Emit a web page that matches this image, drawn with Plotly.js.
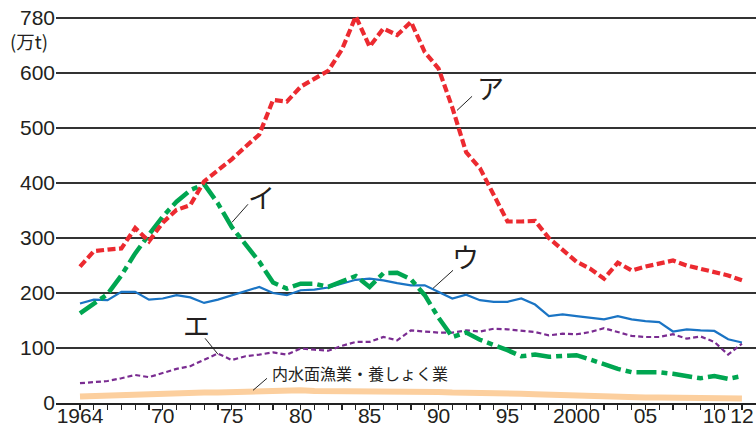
<!DOCTYPE html>
<html>
<head>
<meta charset="utf-8">
<script src="https://cdn.plot.ly/plotly-3.0.1.min.js"></script>
<style>
  html, body { margin: 0; padding: 0; background: #fff; }
  #chart { width: 756px; height: 426px; }
</style>
</head>
<body>
<div id="chart"></div>
<script>
// Years 1964–2012
const years = [];
for (let y = 1964; y <= 2012; y++) years.push(y);

// ア (red dashed)
const seriesA = [248,276,279,281,318,294,328,351,360,403,423,443,466,488,551,548,575,590,604,643,
  703,648,681,669,693,638,608,537,456,427,380,330,330,331,300,278,257,244,226,255,
  241,248,253,259,250,244,238,232,223];
// イ (green dash-dot)
const seriesI = [163,180,198,232,272,306,339,366,387,398,363,320,290,257,219,208,217,217,211,220,
  231,211,236,237,225,196,155,120,128,115,106,96,85,88,84,85,87,79,70,62,
  56,56,56,53,49,45,49,44,49];
// ウ (blue solid)
const seriesU = [181,188,187,202,202,188,190,196,192,182,188,196,204,211,200,196,205,206,210,217,
  224,226,223,218,214,214,202,190,197,187,184,184,190,179,158,161,158,155,152,158,
  152,149,147,130,134,132,131,116,110];
// エ (purple dashed)
const seriesE = [36,38,40,45,51,47,55,62,67,78,90,78,85,88,92,88,99,97,95,104,
  111,111,120,114,132,130,128,128,132,130,135,134,132,129,123,126,125,129,136,129,
  122,120,120,125,117,121,111,88,108];
// 内水面漁業・養しょく業 (orange)
const seriesInland = [12,13,13,14,15,16,17,17,18,19,19,20,21,22,23,23,23,22,22,22,
  21,20,20,20,20,20,20,19,19,18,17,17,17,16,15,14,14,13,12,12,
  11,10,10,10,9,9,9,8,8];

// Tick labels
const xLabelMap = {1964:"1964",1970:"70",1975:"75",1980:"80",1985:"85",1990:"90",1995:"95",2000:"2000",2005:"05",2010:"10",2012:"12"};
const xTickText = years.map(y => xLabelMap[y] || "");
const yTickVals = [0,100,200,300,400,500,600,700];
const yTickText = ["0","100","200","300","400","500","600","780"];

const numFont = "'Liberation Sans', Arial, sans-serif";
const jpFont = "'Noto Sans CJK JP', 'Noto Sans', sans-serif";
const textColor = "#231f20";

const traces = [
  {x: years, y: seriesInland, mode: "lines", line: {color: "#fccf9e", width: 6}, hoverinfo: "skip"},
  {x: years, y: seriesE, mode: "lines", line: {color: "#7a2c91", width: 2.2, dash: "5px,3px"}, hoverinfo: "skip"},
  {x: years, y: seriesU, mode: "lines", line: {color: "#1a74c4", width: 2.2}, hoverinfo: "skip"},
  {x: years, y: seriesI, mode: "lines", line: {color: "#00a651", width: 4.5, dash: "20px,5px,6px,5px"}, hoverinfo: "skip"},
  {x: years, y: seriesA, mode: "lines", line: {color: "#ec2a30", width: 4.2, dash: "8px,3.5px"}, hoverinfo: "skip"}
];

const leader = (x0, y0, x1, y1) => ({type: "line", xref: "x", yref: "y", x0, y0, x1, y1, line: {color: "#222", width: 1}});

const layout = {
  width: 756, height: 426,
  margin: {l: 56, r: 0, t: 6.7, b: 23.3, pad: 0},
  paper_bgcolor: "#fff", plot_bgcolor: "#fff",
  showlegend: false,
  xaxis: {
    range: [1962.26, 2013.02],
    tickmode: "array", tickvals: years, ticktext: xTickText,
    ticks: "outside", ticklen: 5, tickwidth: 1.2, tickcolor: "#222",
    tickangle: 0,
    ticklabelstandoff: -12,
    showline: true, linecolor: "#222", linewidth: 1.5,
    showgrid: false, zeroline: false,
    tickfont: {family: numFont, size: 21, color: textColor},
    fixedrange: true
  },
  yaxis: {
    range: [0, 720],
    tickmode: "array", tickvals: yTickVals, ticktext: yTickText,
    ticks: "", showline: false, zeroline: false,
    showgrid: true, gridcolor: "#333", gridwidth: 1.2,
    tickfont: {family: numFont, size: 21, color: textColor},
    fixedrange: true
  },
  shapes: [
    leader(1991.34, 532, 1992.43, 557.6),
    leader(1975.02, 328.5, 1976.18, 361.3),
    leader(1989.60, 208.5, 1991.05, 241.3),
    leader(1974.01, 88.5, 1973.07, 117.6),
    leader(1976.55, 23.1, 1977.56, 44.9)
  ],
  annotations: [
    {text: "ア", x: 1993.80, y: 574, xref: "x", yref: "y", showarrow: false, xanchor: "center", yanchor: "middle", font: {family: jpFont, size: 27, color: textColor}},
    {text: "イ", x: 1977.13, y: 375.8, xref: "x", yref: "y", showarrow: false, xanchor: "center", yanchor: "middle", font: {family: jpFont, size: 27, color: textColor}},
    {text: "ウ", x: 1991.99, y: 266.7, xref: "x", yref: "y", showarrow: false, xanchor: "center", yanchor: "middle", font: {family: jpFont, size: 27, color: textColor}},
    {text: "エ", x: 1972.48, y: 142.9, xref: "x", yref: "y", showarrow: false, xanchor: "center", yanchor: "middle", font: {family: jpFont, size: 27, color: textColor}},
    {text: "内水面漁業・養しょく業", x: 1977.78, y: 54, xref: "x", yref: "y", showarrow: false, xanchor: "left", yanchor: "middle", font: {family: jpFont, size: 16, color: textColor}},
    {text: "(万t)", x: -0.039, y: 0.914, xref: "paper", yref: "paper", showarrow: false, xanchor: "center", yanchor: "middle", font: {family: jpFont, size: 18.5, color: textColor}}
  ]
};

Plotly.newPlot("chart", traces, layout, {staticPlot: true, displayModeBar: false});
</script>
</body>
</html>
